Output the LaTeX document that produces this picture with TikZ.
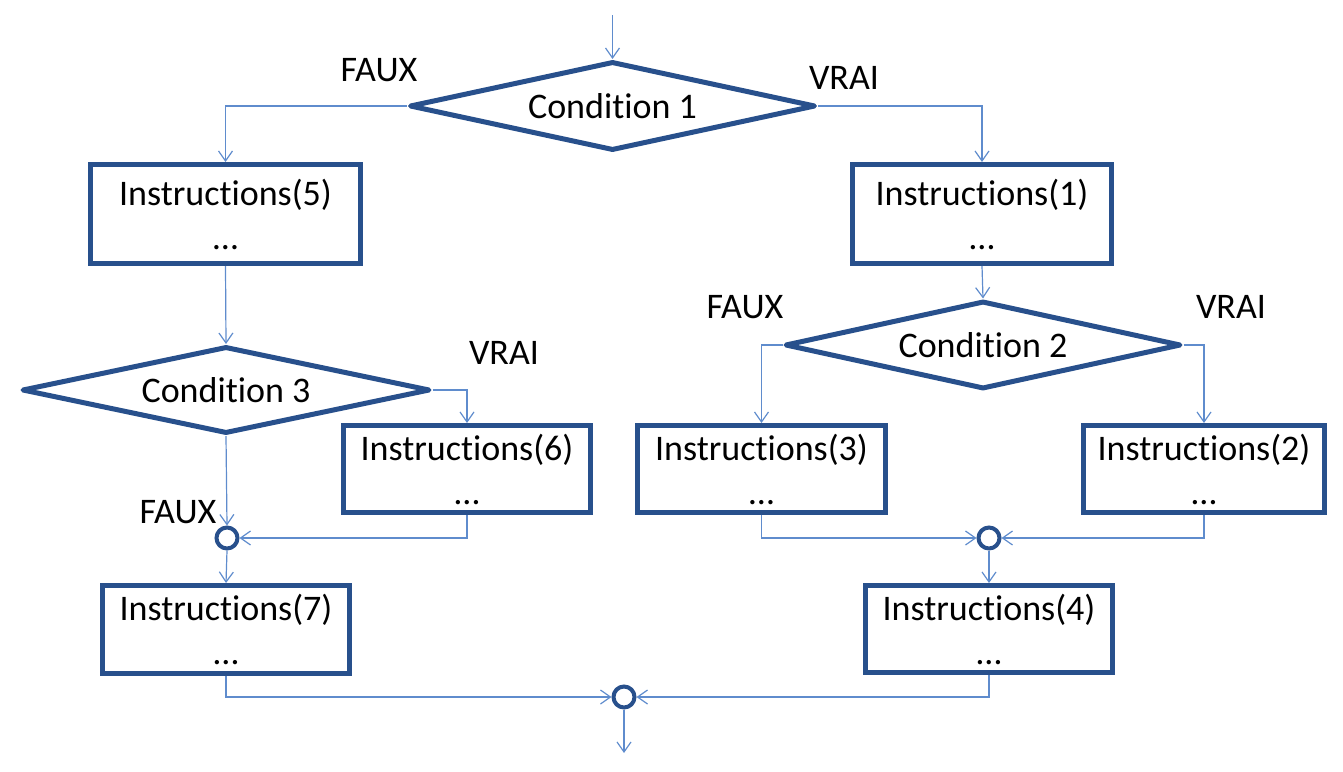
\documentclass[tikz,border=0pt]{standalone}
\usepackage{fontspec}
\setmainfont{Carlito}[Ligatures={NoCommon}]
\usetikzlibrary{shapes.geometric,arrows.meta}
\definecolor{boxblue}{RGB}{40,80,140}
\definecolor{linkblue}{RGB}{95,140,205}
\tikzset{
  instbox/.style={draw=boxblue, line width=5pt, fill=white, inner sep=0pt,
    align=center, font=\fontsize{36}{44}\selectfont},
  cond/.style={draw=boxblue, line width=5pt, line join=round, shape=diamond,
    aspect=4.6, inner sep=0pt, fill=white, font=\fontsize{36}{44}\selectfont},
  junction/.style={draw=boxblue, line width=4pt, circle, fill=white,
    minimum size=21pt, inner sep=0pt},
  lbl/.style={font=\fontsize{36}{44}\selectfont, inner sep=0pt},
  link/.style={draw=linkblue, line width=1.2pt, -{Straight Barb[length=10pt,width=14pt]}},
}
\begin{document}
\begin{tikzpicture}[x=1pt,y=-1pt]
\useasboundingbox (0,0) rectangle (1343,771);
% decisions
\node[cond, minimum width=406pt, minimum height=89pt] (c1) at (612.5,106) {Condition 1};
\node[cond, minimum width=408pt, minimum height=87pt] (c3) at (226,390) {Condition 3};
\node[cond, minimum width=396pt, minimum height=88pt] (c2) at (983,345) {Condition 2};
% boxes
\node[instbox, minimum width=270pt, minimum height=99pt] (b5) at (225.5,214) {Instructions(5)\\…};
\node[instbox, minimum width=259pt, minimum height=99pt] (b1) at (982,214) {Instructions(1)\\…};
\node[instbox, minimum width=247pt, minimum height=87pt] (b6) at (467,469) {Instructions(6)\\…};
\node[instbox, minimum width=248pt, minimum height=87pt] (b3) at (761.5,469) {Instructions(3)\\…};
\node[instbox, minimum width=241pt, minimum height=87pt] (b2) at (1204,469) {Instructions(2)\\…};
\node[instbox, minimum width=247pt, minimum height=88pt] (b7) at (226,629.5) {Instructions(7)\\…};
\node[instbox, minimum width=247pt, minimum height=87pt] (b4) at (989,629) {Instructions(4)\\…};
% junctions
\node[junction] (j1) at (227,538) {};
\node[junction] (j2) at (989,538) {};
\node[junction] (j3) at (624,697) {};
\coordinate (in) at (612.5,15);
\coordinate (out) at (624,753);
% labels
\node[lbl] (l1) at (379,70) {FAUX};
\node[lbl] (l2) at (844,78) {VRAI};
\node[lbl] (l3) at (504,353) {VRAI};
\node[lbl] (l4) at (178,512) {FAUX};
\node[lbl] (l5) at (745,307) {FAUX};
\node[lbl] (l6) at (1231,307) {VRAI};
% connectors
\draw[link] (in) -- (c1.north);
\draw[link] (c1.west) -| (b5.north);
\draw[link] (c1.east) -| (b1.north);
\draw[link] (b5.south) -- (c3.north);
\draw[link] (c3.east) -| (b6.north);
\draw[link] (c3.south) -- (j1.north);
\draw[link] (b6.south) |- (j1.east);
\draw[link] (j1.south) -- (b7.north);
\draw[link] (b1.south) -- (c2.north);
\draw[link] (c2.west) -| (b3.north);
\draw[link] (c2.east) -| (b2.north);
\draw[link] (b3.south) |- (j2.west);
\draw[link] (b2.south) |- (j2.east);
\draw[link] (j2.south) -- (b4.north);
\draw[link] (b7.south) |- (j3.west);
\draw[link] (b4.south) |- (j3.east);
\draw[link] (j3.south) -- (out);
\end{tikzpicture}
\end{document}
